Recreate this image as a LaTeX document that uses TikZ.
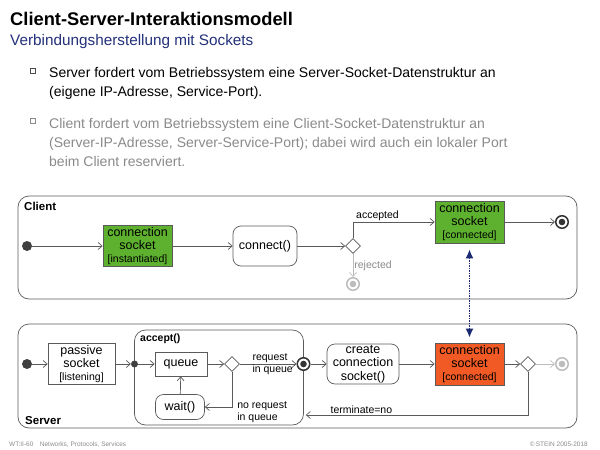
\documentclass[tikz,border=0pt]{standalone}
\usepackage{fontspec}
\setmainfont{Liberation Sans}
\usetikzlibrary{arrows.meta,shapes.geometric}

\definecolor{linegray}{HTML}{5A5A5A}
\definecolor{palegray}{HTML}{BDBDBD}
\definecolor{textgray}{HTML}{8A8A8A}
\definecolor{subblue}{HTML}{23307A}
\definecolor{arrowblue}{HTML}{1B2A72}
\definecolor{sockgreen}{HTML}{5DB12F}
\definecolor{sockorange}{HTML}{F15A24}

\newcommand\fs[1]{\fontsize{#1}{1.1\dimexpr#1pt\relax}\selectfont}
\newcommand\tagtext[1]{{\fontsize{10.5}{12}\selectfont[#1]}}

\tikzset{
  flow/.style={draw=linegray, line width=0.7pt, -{Straight Barb[length=4pt,width=7pt]}},
  faint/.style={flow, draw=palegray},
  lane/.style={draw=linegray, line width=0.7pt, rounded corners=11pt},
  activity/.style={draw=linegray, line width=0.7pt, fill=white, rounded corners=8pt,
    align=center, inner sep=0pt, font=\fs{12.5}},
  object/.style={draw=linegray, line width=0.7pt, fill=white, align=center,
    inner sep=0pt, font=\fontsize{12.5}{13}\selectfont},
  decision/.style={diamond, draw=linegray, line width=0.7pt, fill=white,
    minimum size=15pt, inner sep=0pt},
  start/.style={circle, fill=black!75, minimum size=10pt, inner sep=0pt},
  fork/.style={circle, fill=black!75, minimum size=7pt, inner sep=0pt},
  final/.style={circle, draw=#1, line width=1.5pt, fill=white, minimum size=12.5pt, inner sep=0pt,
    path picture={\fill[#1] (path picture bounding box.center) circle (3.3pt);}},
  final/.default=black!80,
  guard/.style={font=\fs{10.5}, inner sep=1pt, align=left},
  lanename/.style={font=\bfseries\fs{11.5}, inner sep=0pt, anchor=west},
  bulletbox/.style={draw=black!70, line width=0.6pt, minimum size=4.5pt, inner sep=0pt},
}

\begin{document}
\begin{tikzpicture}[x=1pt,y=-1pt]
\useasboundingbox (0,0) rectangle (600,450);

% heading
\node[anchor=base west, inner sep=0pt, font=\bfseries\fs{18.3}] (title) at (10,25) {Client-Server-Interaktionsmodell};
\node[anchor=base west, inner sep=0pt, font=\fs{15.3}, text=subblue] (subtitle) at (10,45) {Verbindungsherstellung mit Sockets};

\node[bulletbox] (b1) at (33,71) {};
\node[anchor=base west, inner sep=0pt, align=left, font=\fontsize{14}{19}\selectfont] (t1) at (49,96)
  {Server fordert vom Betriebssystem eine Server-Socket-Datenstruktur an\\(eigene IP-Adresse, Service-Port).};
\node[bulletbox, draw=textgray] (b2) at (33,121) {};
\node[anchor=base west, inner sep=0pt, align=left, text=textgray, font=\fontsize{14}{19}\selectfont] (t2) at (49,166)
  {Client fordert vom Betriebssystem eine Client-Socket-Datenstruktur an\\(Server-IP-Adresse, Server-Service-Port); dabei wird auch ein lokaler Port\\beim Client reserviert.};

% client lane
\draw[lane] (18,196) rectangle (577,299);
\node[lanename] (client) at (24,206) {Client};

\node[start] (cinit) at (27,246) {};
\node[object, fill=sockgreen, minimum width=69pt, minimum height=41pt] (csock) at (137.5,246)
  {connection\\socket\\\tagtext{instantiated}};
\node[activity, minimum width=64pt, minimum height=40pt] (connect) at (265,246) {connect()};
\node[decision] (cdec) at (353,246) {};
\node[object, fill=sockgreen, minimum width=69pt, minimum height=42pt] (cconn) at (469.5,222)
  {connection\\socket\\\tagtext{connected}};
\node[final] (cfinal) at (562,222) {};
\node[final=palegray] (crej) at (353,284) {};

\draw[flow] (cinit) -- (csock);
\draw[flow] (csock) -- (connect);
\draw[flow] (connect) -- (cdec);
\draw[flow] (cdec.north) |- (cconn) node[guard, pos=0.65, above] {accepted};
\draw[faint] (cdec.south) -- (crej) node[guard, midway, right, text=textgray] {rejected};
\draw[flow] (cconn) -- (cfinal);

% server lane
\draw[lane] (18,324) rectangle (577,428);
\node[lanename] (server) at (25,421) {Server};

\node[draw=linegray, line width=0.7pt, rounded corners=11pt, minimum width=169pt, minimum height=95pt,
  inner sep=0pt] (accept) at (219,377.5) {};
\node[lanename, font=\bfseries\fs{10.5}] (acceptname) at (140,339) {accept()};

\node[start] (sinit) at (27,364) {};
\node[object, minimum width=67pt, minimum height=41pt] (passive) at (81.5,364)
  {passive\\socket\\\tagtext{listening}};
\node[fork] (sfork) at (134.5,364) {};
\node[object, minimum width=52pt, minimum height=24pt] (queue) at (181,364) {queue};
\node[decision] (sdec) at (232,364) {};
\node[final] (accfinal) at (303.5,364) {};
\node[activity, minimum width=49pt, minimum height=25pt] (wait) at (180,407) {wait()};
\node[activity, minimum width=72pt, minimum height=40pt] (create) at (363,364)
  {create\\connection\\socket()};
\node[object, fill=sockorange, minimum width=69pt, minimum height=42pt] (sconn) at (469.5,364)
  {connection\\socket\\\tagtext{connected}};
\node[decision] (sdec2) at (528,364) {};
\node[final=palegray] (sfinal) at (562,364) {};
\coordinate (ret) at (accept.east |- 0,415);

\draw[flow] (sinit) -- (passive);
\draw[flow] (passive) -- (sfork);
\draw[flow] (sfork) -- (queue);
\draw[flow] (queue) -- (sdec);
\draw[flow] (sdec) -- (accfinal) node[guard, pos=0.2, anchor=south west] {request}
  node[guard, pos=0.2, anchor=north west] {in queue};
\draw[flow] (sdec.south) |- (wait) node[guard, pos=0.5, anchor=west, xshift=4pt, yshift=-5pt] {no request\\in queue};
\draw[flow] (wait) -- (queue);
\draw[flow] (accfinal) -- (create);
\draw[flow] (create) -- (sconn);
\draw[flow] (sconn) -- (sdec2);
\draw[faint] (sdec2) -- (sfinal);
\draw[flow] (sdec2.south) |- ([xshift=2pt]ret) node[guard, pos=0.875, above] {terminate=no};

% link between the two sockets
\draw[arrowblue, line width=1.5pt, densely dotted, {Latex[length=9pt,width=8pt]}-{Latex[length=9pt,width=8pt]}]
  ([yshift=-6pt]cconn.south) -- ([yshift=5pt]sconn.north);

% footer
\node[anchor=base west, inner sep=0pt, text=textgray, font=\fs{6.5}] (foot) at (9,446)
  {WT:II-60\quad Networks, Protocols, Services};
\node[anchor=base east, inner sep=0pt, text=textgray, font=\fs{6.5}] (copy) at (588,446)
  {\textcopyright\,STEIN 2005-2018};
\end{tikzpicture}
\end{document}
